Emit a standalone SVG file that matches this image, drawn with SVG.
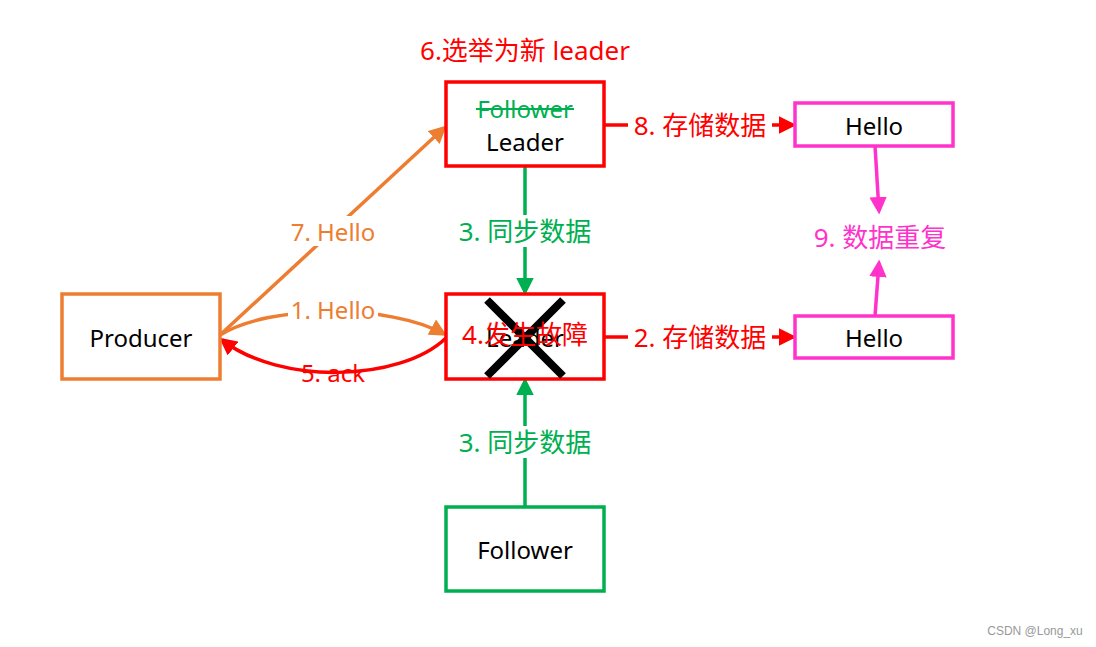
<svg xmlns="http://www.w3.org/2000/svg" width="1096" height="647" viewBox="0 0 1096 647">
<style>
text{font-family:"Noto Sans","Noto Sans CJK SC",sans-serif;font-size:24px;text-anchor:middle;dominant-baseline:central}
.cjk{font-size:26px}
.box{fill:#fff;stroke-width:3.5}
.bg{fill:#fff}
</style>
<defs>
<marker id="aR" viewBox="0 0 10 10" refX="8" refY="5" markerWidth="5" markerHeight="5" orient="auto" markerUnits="strokeWidth"><path d="M0,0L10,5L0,10z" fill="#FF0000"/></marker>
<marker id="aO" viewBox="0 0 10 10" refX="8" refY="5" markerWidth="5" markerHeight="5" orient="auto" markerUnits="strokeWidth"><path d="M0,0L10,5L0,10z" fill="#ED7D31"/></marker>
<marker id="aG" viewBox="0 0 10 10" refX="8" refY="5" markerWidth="5" markerHeight="5" orient="auto" markerUnits="strokeWidth"><path d="M0,0L10,5L0,10z" fill="#00B050"/></marker>
<marker id="aM" viewBox="0 0 10 10" refX="8" refY="5" markerWidth="5" markerHeight="5" orient="auto" markerUnits="strokeWidth"><path d="M0,0L10,5L0,10z" fill="#FF33CC"/></marker>
</defs>
<rect width="1096" height="647" fill="#fff"/>
<g id="connectors" fill="none" stroke-width="3.5">
<line x1="525" y1="166" x2="525" y2="292" stroke="#00B050" marker-end="url(#aG)"/>
<line x1="525" y1="507" x2="525" y2="381" stroke="#00B050" marker-end="url(#aG)"/>
<line x1="220" y1="335" x2="444" y2="128" stroke="#ED7D31" marker-end="url(#aO)"/>
<path d="M220,335 C270,304 390,304 444,334" stroke="#ED7D31" marker-end="url(#aO)"/>
<path d="M446,338 C400,382 280,385 222,340" stroke="#FF0000" marker-end="url(#aR)"/>
<line x1="604" y1="125" x2="793" y2="125" stroke="#FF0000" marker-end="url(#aR)"/>
<line x1="604" y1="337" x2="793" y2="337" stroke="#FF0000" marker-end="url(#aR)"/>
<line x1="875" y1="146" x2="879" y2="211" stroke="#FF33CC" marker-end="url(#aM)"/>
<line x1="875" y1="316" x2="879" y2="263" stroke="#FF33CC" marker-end="url(#aM)"/>
</g>
<g id="producer"><rect class="box" x="62" y="294" width="158" height="85" stroke="#ED7D31"/><text x="141" y="337">Producer</text></g>
<g id="leader"><rect class="box" x="446" y="82" width="158" height="84" stroke="#FF0000"/>
<text x="525" y="108" fill="#00B050">Follower</text>
<line x1="476" y1="109" x2="574" y2="109" stroke="#00B050" stroke-width="2"/>
<text x="525" y="141">Leader</text></g>
<g id="failed"><rect class="box" x="446" y="294" width="158" height="85" stroke="#FF0000"/>
<text x="525" y="337">Leader</text>
<path d="M487,300L563,376M563,300L487,376" stroke="#000" stroke-width="8"/>
<text class="cjk" x="525" y="334" fill="#FF0000">4.发生故障</text></g>
<g id="follower"><rect class="box" x="446" y="507" width="158" height="84" stroke="#00B050"/><text x="525" y="549">Follower</text></g>
<g id="hello1"><rect class="box" x="795" y="103" width="158" height="43" stroke="#FF33CC" stroke-width="3"/><text x="874" y="125">Hello</text></g>
<g id="hello2"><rect class="box" x="795" y="316" width="158" height="42" stroke="#FF33CC" stroke-width="3"/><text x="874" y="337">Hello</text></g>
<g id="labels">
<text class="cjk" x="525" y="50" fill="#FF0000">6.选举为新 leader</text>
<rect class="bg" x="288" y="216" width="90" height="30"/>
<text x="333" y="231" fill="#ED7D31">7. Hello</text>
<rect class="bg" x="453" y="215" width="144" height="32"/>
<text class="cjk" x="525" y="231" fill="#00B050">3. 同步数据</text>
<rect class="bg" x="453" y="426" width="144" height="32"/>
<text class="cjk" x="525" y="442" fill="#00B050">3. 同步数据</text>
<rect class="bg" x="288" y="296" width="90" height="28"/>
<text x="333" y="309" fill="#ED7D31">1. Hello</text>
<text x="333" y="372" fill="#FF0000">5. ack</text>
<rect class="bg" x="628" y="110" width="144" height="30"/>
<text class="cjk" x="700" y="125" fill="#FF0000">8. 存储数据</text>
<rect class="bg" x="628" y="322" width="144" height="30"/>
<text class="cjk" x="700" y="337" fill="#FF0000">2. 存储数据</text>
<text class="cjk" x="880" y="237" fill="#FF33CC">9. 数据重复</text>
<text x="1035" y="631" fill="#999" style="font-size:12px;font-family:'Liberation Sans',sans-serif">CSDN @Long_xu</text>
</g>
</svg>
